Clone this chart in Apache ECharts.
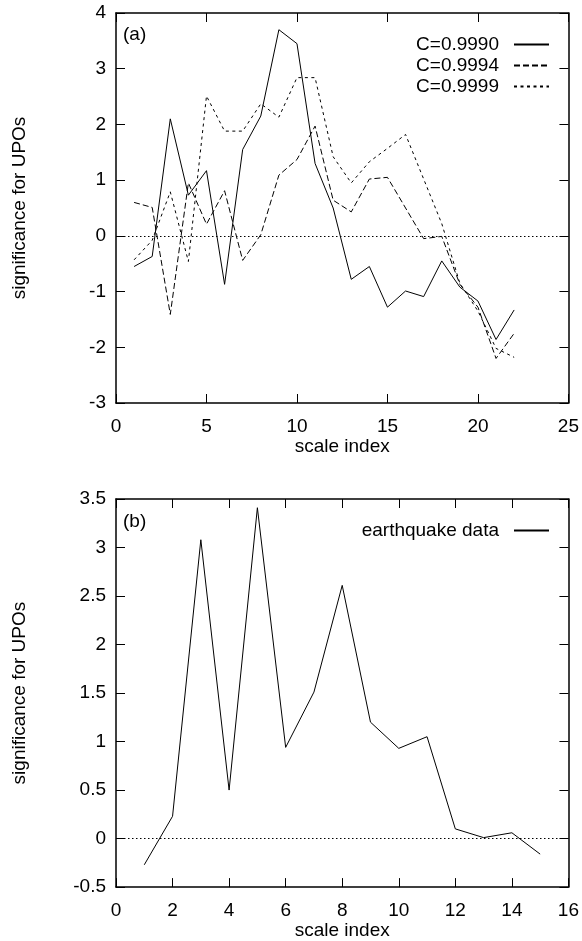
<!DOCTYPE html>
<html>
<head>
<meta charset="utf-8">
<script src="https://cdn.jsdelivr.net/npm/echarts@6/dist/echarts.min.js"></script>
<style>
  body { margin: 0; background: #fff; }
  #itemChar { width: 582px; height: 941px; }
</style>
</head>
<body>
<div id="itemChar"></div>
<script>
  // panel (a)
  var scaleA = [1,2,3,4,5,6,7,8,9,10,11,12,13,14,15,16,17,18,19,20,21,22]
  var c9990 = [-0.55,-0.37,2.10,0.73,1.17,-0.87,1.55,2.15,3.70,3.45,1.30,0.50,-0.78,-0.55,-1.28,-0.99,-1.09,-0.45,-0.92,-1.17,-1.86,-1.33]
  var c9994 = [0.60,0.51,-1.41,0.95,0.21,0.81,-0.44,0.02,1.09,1.37,1.97,0.64,0.43,1.02,1.05,0.50,-0.05,-0.01,-0.87,-1.28,-2.20,-1.75]
  var c9999 = [-0.43,-0.08,0.79,-0.46,2.51,1.88,1.88,2.37,2.13,2.84,2.84,1.42,0.95,1.33,1.57,1.82,1.02,0.22,-0.85,-1.35,-2.02,-2.18]
  // panel (b)
  var scaleB = [1,2,3,4,5,6,7,8,9,10,11,12,13,14,15]
  var quake = [-0.27,0.23,3.08,0.50,3.41,0.94,1.51,2.61,1.20,0.93,1.05,0.10,0.01,0.06,-0.16]

  var font = "'Liberation Sans', Arial, sans-serif"

  function pairs(xs, ys) {
    var out = []
    for (var i = 0; i < xs.length; i++) out.push([xs[i], ys[i]])
    return out
  }

  // frame axis: inward ticks, labels only on the left/bottom
  function xAx(grid, pos, max, interval, labels) {
    return {
      type: 'value', gridIndex: grid, position: pos, min: 0, max: max, interval: interval,
      name: labels ? 'scale index' : '', nameLocation: 'middle', nameGap: 32,
      nameTextStyle: {color: '#000', fontSize: 19, fontFamily: font},
      axisLine: {show: true, onZero: false, lineStyle: {color: '#000', width: 1.5}},
      axisTick: {show: true, inside: true, length: 9, lineStyle: {color: '#000', width: 1}},
      axisLabel: {show: labels, color: '#000', fontSize: 19, fontFamily: font, margin: 14,
        showMinLabel: true, showMaxLabel: true, hideOverlap: false},
      splitLine: {show: false}
    }
  }
  function yAx(grid, pos, min, max, interval, labels) {
    return {
      type: 'value', gridIndex: grid, position: pos, min: min, max: max, interval: interval,
      name: labels ? 'significance for UPOs' : '', nameLocation: 'middle', nameRotate: 90, nameGap: 87,
      nameTextStyle: {color: '#000', fontSize: 19, fontFamily: font},
      axisLine: {show: true, onZero: false, lineStyle: {color: '#000', width: 1.5}},
      axisTick: {show: true, inside: true, length: 9, lineStyle: {color: '#000', width: 1}},
      axisLabel: {show: labels, color: '#000', fontSize: 19, fontFamily: font, margin: 10,
        showMinLabel: true, showMaxLabel: true, hideOverlap: false},
      splitLine: {show: false}
    }
  }

  var zeroLine = {
    silent: true, symbol: 'none', label: {show: false},
    lineStyle: {color: '#000', width: 1, type: [1.5, 2.5]},
    data: [{yAxis: 0}]
  }

  var legendText = {color: '#000', fontSize: 19, fontFamily: font, lineHeight: 21, padding: [0, 10, 0, 0]}

  var option = {
    animation: false,
    backgroundColor: '#fff',
    title: [
      {text: '(a)', left: 118, top: 20, textStyle: {color: '#000', fontSize: 19, fontWeight: 'normal', fontFamily: font}},
      {text: '(b)', left: 118, top: 507, textStyle: {color: '#000', fontSize: 19, fontWeight: 'normal', fontFamily: font}}
    ],
    legend: [
      {
        data: ['C=0.9990', 'C=0.9994', 'C=0.9999'],
        orient: 'vertical', align: 'right', right: 32, top: 34, padding: 0,
        itemWidth: 35, itemHeight: 14, itemGap: 0,
        itemStyle: {opacity: 0},
        textStyle: legendText
      },
      {
        data: ['earthquake data'],
        orient: 'vertical', align: 'right', right: 32, top: 520, padding: 0,
        itemWidth: 35, itemHeight: 14,
        itemStyle: {opacity: 0},
        textStyle: legendText
      }
    ],
    grid: [
      {left: 116, right: 11, top: 13, height: 390},
      {left: 116, right: 11, top: 499, height: 391}
    ],
    xAxis: [
      xAx(0, 'bottom', 25, 5, true),
      xAx(0, 'top', 25, 5, false),
      xAx(1, 'bottom', 16, 2, true),
      xAx(1, 'top', 16, 2, false)
    ],
    yAxis: [
      yAx(0, 'left', -3, 4, 1, true),
      yAx(0, 'right', -3, 4, 1, false),
      yAx(1, 'left', -0.5, 3.5, 0.5, true),
      yAx(1, 'right', -0.5, 3.5, 0.5, false)
    ],
    series: [
      {
        name: 'C=0.9990', type: 'line', xAxisIndex: 0, yAxisIndex: 0, symbol: 'none',
        data: pairs(scaleA, c9990),
        lineStyle: {color: '#000', width: 1, type: 'solid'}, itemStyle: {color: '#000'},
        markLine: zeroLine
      },
      {
        name: 'C=0.9994', type: 'line', xAxisIndex: 0, yAxisIndex: 0, symbol: 'none',
        data: pairs(scaleA, c9994),
        lineStyle: {color: '#000', width: 1, type: [6, 3]}, itemStyle: {color: '#000'}
      },
      {
        name: 'C=0.9999', type: 'line', xAxisIndex: 0, yAxisIndex: 0, symbol: 'none',
        data: pairs(scaleA, c9999),
        lineStyle: {color: '#000', width: 1, type: [3, 3.5]}, itemStyle: {color: '#000'}
      },
      {
        name: 'earthquake data', type: 'line', xAxisIndex: 2, yAxisIndex: 2, symbol: 'none',
        data: pairs(scaleB, quake),
        lineStyle: {color: '#000', width: 1, type: 'solid'}, itemStyle: {color: '#000'},
        markLine: zeroLine
      }
    ]
  }

  var mychar = echarts.init(document.getElementById('itemChar'))
  mychar.setOption(option)
</script>
</body>
</html>
